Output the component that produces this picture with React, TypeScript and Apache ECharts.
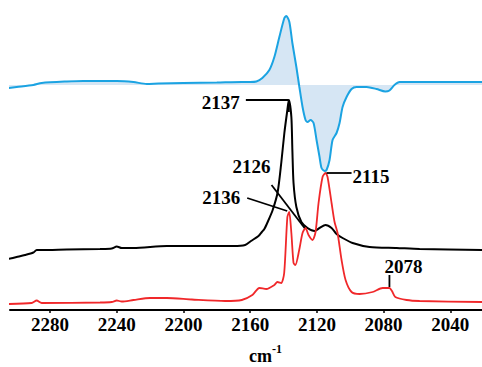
import React, { useEffect, useRef } from "react";
import * as echarts from "echarts";

// x: wavenumber (cm-1), y: offset intensity (arbitrary units)
const blueWn = [2305,2300,2290,2285,2270,2260,2240,2230,2222,2215,2200,2180,2165,2160,2156.3,2152.7,2148.5,2145.5,2142.5,2139.5,2138.3,2136.5,2134.7,2132.3,2130.5,2128.6,2126.8,2125.6,2123.8,2122,2120.2,2118.4,2117.2,2115.4,2114.2,2112.4,2110.6,2108.2,2106.4,2104.6,2102.2,2099.2,2096.2,2090.2,2084.2,2079,2076.5,2073.5,2070.4,2021];
const blueVal = [222,223,225,227,228.5,229,229,228,226,226.5,227,227.5,228,228,228.5,232,240,253,273,292,294,288,267,243,223,203,190,188,190,187,170,153,142,139,140,150,170,177,187,203,213,221,223,223,221,218.5,219.5,225,228,228];
const blueBaseline = 225;

const blackWn = [2305,2300,2295,2290,2288,2285,2270,2250,2243,2240,2237,2230,2210,2190,2170,2163,2159.5,2155,2153,2151.5,2149.5,2146.5,2143.5,2141.3,2139.5,2137.7,2136.8,2135.3,2134.7,2134,2132.3,2129.3,2125.6,2121.4,2118.4,2114.8,2111.2,2108.2,2104.6,2098.6,2088.4,2072.2,2058.4,2021];
const blackVal = [51,53,55,57.5,60,60,60.5,61,61.5,63.5,62,62,64,64,64,65,69,74,78,81,88,100,118,148,177,200,210,193,160,127,103,88,82,79,82,85,82,76,72,67,63,62,61,60];

const redWn = [2305,2291,2288,2285,2250,2243,2240,2237,2230,2220,2210,2195,2175,2165,2158.7,2154.5,2150.3,2145.5,2143.7,2141.4,2139.6,2137.7,2136.6,2135.3,2134,2132.9,2130.6,2128.6,2126.8,2125,2122.6,2120.8,2119,2116.6,2114.8,2113.6,2111.2,2109.4,2107.6,2105.2,2102.8,2099.2,2094.4,2086.6,2080.6,2076.5,2075,2073,2066.2,2058.4,2021];
const redVal = [6,7,9.5,7,7.5,8,9.5,8.5,10,12,12,10.5,9,10,15,22,21,25,28,27,37,93,98,77,47,45,60,77,82,75,70,78,107,133,137,133,107,88,77,50,30,18,16,18,22,22,19,13,10,9,8];

const tickValues = [2280, 2240, 2200, 2160, 2120, 2080, 2040];

const annLabels = ["2137", "2136", "2126", "2115", "2078"];
const annWn = [2136.8, 2136.6, 2126.8, 2114.8, 2076.5];
const annVal = [210, 98, 82, 137, 22];

const zip = (a: number[], b: number[]) => a.map((v, i) => [v, b[i]]);

const FONT = '"Liberation Serif", "Times New Roman", serif';

export default function App() {
  const ref = useRef<HTMLDivElement>(null);
  useEffect(() => {
    if (!ref.current) return;
    const chart = echarts.init(ref.current, undefined, { renderer: "svg" });
    chart.setOption({
      animation: false,
      backgroundColor: "#ffffff",
      grid: { left: 10, right: 0, top: 10, bottom: 57 },
      xAxis: {
        type: "value",
        min: 2021,
        max: 2304,
        inverse: true,
        axisLine: { show: true, lineStyle: { color: "#000", width: 2 } },
        axisTick: { show: true, length: 3, customValues: tickValues, lineStyle: { color: "#000", width: 1.5 } },
        axisLabel: {
          customValues: tickValues,
          formatter: (v: number) => String(v),
          margin: 5,
          color: "#000",
          fontFamily: FONT,
          fontWeight: "bold",
          fontSize: 19,
        },
        splitLine: { show: false },
      },
      yAxis: { type: "value", min: 0, max: 300, show: false, splitLine: { show: false } },
      series: [
        {
          type: "line",
          data: zip(blueWn, blueVal),
          symbol: "none",
          smooth: 0.25,
          lineStyle: { color: "#1ba3e2", width: 2 },
          areaStyle: { color: "#d6e6f4", origin: blueBaseline, opacity: 1 },
          z: 2,
        },
        {
          type: "line",
          data: zip(blackWn, blackVal),
          symbol: "none",
          smooth: 0.25,
          lineStyle: { color: "#000", width: 2 },
          z: 3,
        },
        {
          type: "line",
          data: zip(redWn, redVal),
          symbol: "none",
          smooth: 0.25,
          lineStyle: { color: "#f0282a", width: 1.8 },
          z: 4,
        },
      ],
    });

    const p = annWn.map((w, i) => chart.convertToPixel({ xAxisIndex: 0, yAxisIndex: 0 }, [w, annVal[i]]) as number[]);
    const lineStyle = { stroke: "#000", lineWidth: 1.8 };
    const txt = (text: string, x: number, y: number, align: string) => ({
      type: "text",
      z: 100,
      style: { text, x, y, font: `bold 19px ${FONT}`, fill: "#000", align, verticalAlign: "middle", textAlign: align, textVerticalAlign: "middle" },
    });
    const ln = (x1: number, y1: number, x2: number, y2: number) => ({ type: "line", z: 100, shape: { x1, y1, x2, y2 }, style: lineStyle });
    const graphics: any[] = [];
    // 2137
    graphics.push(ln(p[0][0] - 43, p[0][1], p[0][0], p[0][1]));
    graphics.push(ln(p[0][0], p[0][1], p[0][0], p[0][1] + 12));
    graphics.push(txt(annLabels[0], p[0][0] - 49, p[0][1] + 2, "right"));
    // 2136
    graphics.push(ln(p[1][0] - 42, p[1][1] - 14, p[1][0] - 2, p[1][1] - 1));
    graphics.push(txt(annLabels[1], p[1][0] - 49, p[1][1] - 15, "right"));
    // 2126
    graphics.push(ln(p[2][0] - 34, p[2][1] - 43, p[2][0] - 1, p[2][1]));
    graphics.push(txt(annLabels[2], p[2][0] - 35, p[2][1] - 62, "right"));
    // 2115
    graphics.push(ln(p[3][0] + 1, p[3][1], p[3][0] + 26, p[3][1]));
    graphics.push(txt(annLabels[3], p[3][0] + 27, p[3][1] + 3, "left"));
    // 2078
    graphics.push(ln(p[4][0], p[4][1] - 1, p[4][0], p[4][1] - 13));
    graphics.push(txt(annLabels[4], p[4][0] - 5, p[4][1] - 22, "left"));
    // axis name cm-1
    graphics.push({ type: "text", z: 100, style: { text: "cm", x: 249, y: 356, font: `bold 18px ${FONT}`, fill: "#000", align: "left", verticalAlign: "middle", textAlign: "left", textVerticalAlign: "middle" } });
    graphics.push({ type: "text", z: 100, style: { text: "-1", x: 272, y: 349, font: `bold 12px ${FONT}`, fill: "#000", align: "left", verticalAlign: "middle", textAlign: "left", textVerticalAlign: "middle" } });
    chart.setOption({ graphic: graphics });

    return () => chart.dispose();
  }, []);
  return <div ref={ref} style={{ width: 482, height: 367, position: "absolute", left: 0, top: 0 }} />;
}
